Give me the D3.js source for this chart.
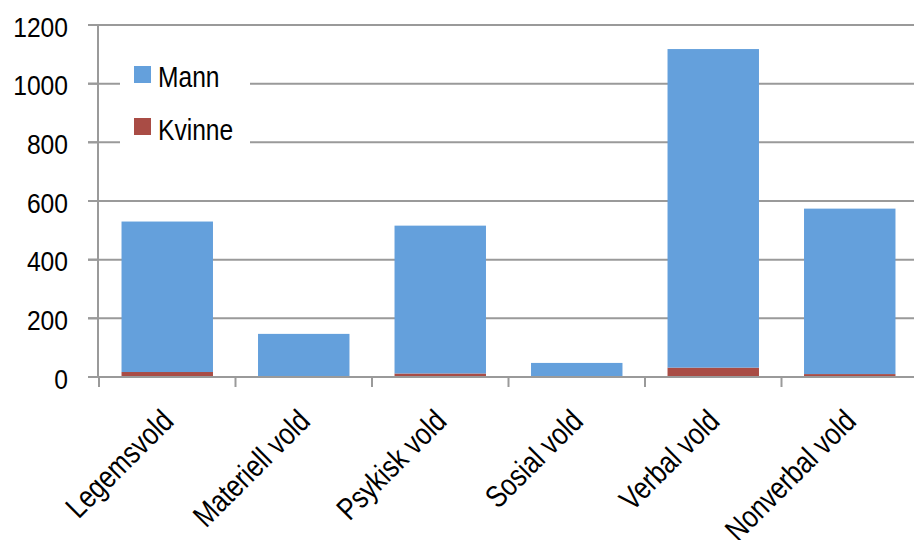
<!DOCTYPE html>
<html><head><meta charset="utf-8">
<script src="https://cdn.jsdelivr.net/npm/d3@7"></script>
<style>body{margin:0;background:#fff}svg{display:block}</style>
</head><body>
<svg id="c" width="914" height="540"></svg>
<script>
const categories = ["Legemsvold","Materiell vold","Psykisk vold","Sosial vold","Verbal vold","Nonverbal vold"];
const kvinne = [17, 3, 12, 1, 32, 10];
const mann = [513, 144, 504, 47, 1086, 564];
const yTicks = [0,200,400,600,800,1000,1200];
const seriesNames = ["Mann","Kvinne"];
const colors = {Mann:"#64A0DC", Kvinne:"#A94C45"};

const svg = d3.select("#c");
const font = "'Liberation Sans', Arial, sans-serif";
const x = d3.scaleBand().domain(categories).range([99, 918]).paddingInner(0.33).paddingOuter(0.165);
const xTick = d3.scaleBand().domain(categories).range([99, 918]);
const y = d3.scaleLinear().domain([0,1200]).range([377, 25]);

// gridlines
svg.append("g").selectAll("line").data(yTicks.filter(d=>d>0)).join("line")
  .attr("x1", 88).attr("x2", 914)
  .attr("y1", d=>y(d)).attr("y2", d=>y(d))
  .attr("stroke", "#9a9a9a").attr("stroke-width", 2);

// legend background (covers gridlines)
svg.append("rect").attr("x",120).attr("y",55).attr("width",130).attr("height",100).attr("fill","#fff");

// bars
const data = categories.map((c,i)=>({cat:c, Kvinne:kvinne[i], Mann:mann[i]}));
const stack = d3.stack().keys(["Kvinne","Mann"])(data);
svg.append("g").selectAll("g").data(stack).join("g")
  .attr("fill", d=>colors[d.key])
  .selectAll("rect").data(d=>d).join("rect")
  .attr("x", d=>x(d.data.cat)).attr("width", x.bandwidth())
  .attr("y", d=>y(d[1])).attr("height", d=>y(d[0])-y(d[1]));

// y axis
const yAxis = svg.append("g");
yAxis.append("line").attr("x1",98).attr("x2",98).attr("y1",y(1200)).attr("y2",378)
  .attr("stroke","#9a9a9a").attr("stroke-width",2);
yAxis.selectAll("line.t").data(yTicks).join("line").attr("class","t")
  .attr("x1",88).attr("x2",98).attr("y1",d=>y(d)).attr("y2",d=>y(d))
  .attr("stroke","#9a9a9a").attr("stroke-width",2);
yAxis.selectAll("text").data(yTicks).join("text")
  .attr("transform", d=>`translate(68,${y(d)+11.5}) scale(0.88,1)`)
  .attr("text-anchor","end").attr("font-family",font).attr("font-size",28)
  .attr("fill","#000").text(d=>d);

// x axis
const xAxis = svg.append("g");
xAxis.append("line").attr("x1",88).attr("x2",914).attr("y1",y(0)).attr("y2",y(0))
  .attr("stroke","#9a9a9a").attr("stroke-width",2);
const tickPos = categories.map(c=>xTick(c)).concat([xTick(categories[5])+xTick.bandwidth()]);
xAxis.selectAll("line.t").data(tickPos).join("line").attr("class","t")
  .attr("x1",d=>d).attr("x2",d=>d).attr("y1",y(0)).attr("y2",y(0)+10)
  .attr("stroke","#9a9a9a").attr("stroke-width",2);
xAxis.selectAll("text").data(categories).join("text")
  .attr("transform", c=>`translate(${xTick(c)+xTick.bandwidth()/2+8},${y(0)+46}) rotate(-45) scale(0.82,1)`)
  .attr("text-anchor","end")
  .attr("font-family",font).attr("font-size",31).attr("fill","#000").text(c=>c);

// legend
const leg = svg.append("g");
seriesNames.forEach((s,i)=>{
  leg.append("rect").attr("x",134).attr("y",66+i*52).attr("width",17).attr("height",17).attr("fill",colors[s]);
  leg.append("text").attr("transform",`translate(158,${87+i*53}) scale(0.82,1)`)
    .attr("font-family",font).attr("font-size",30).attr("fill","#000").text(s);
});
</script>
</body></html>
